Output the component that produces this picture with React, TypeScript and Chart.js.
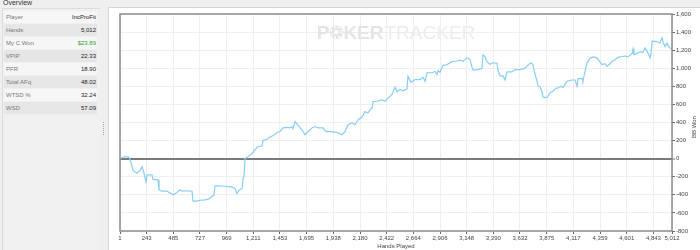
import React, { useEffect, useRef } from "react";
import { Chart, registerables } from "chart.js";

Chart.register(...registerables);

const HANDS = [
  1, 19, 46, 83, 101, 119, 155, 183, 201, 219, 237, 246, 291, 301, 346, 355, 382, 428, 455, 482,
  518, 546, 573, 609, 655, 664, 700, 727, 773, 809, 836, 854, 863, 891, 954, 1018, 1045, 1063, 1081, 1109,
  1118, 1127, 1136, 1163, 1199, 1226, 1254, 1290, 1299, 1335, 1363, 1390, 1426, 1453, 1481, 1517, 1544, 1562, 1571, 1590,
  1617, 1653, 1680, 1708, 1744, 1771, 1798, 1844, 1871, 1907, 1971, 2016, 2044, 2071, 2107, 2134, 2162, 2198, 2225, 2252,
  2271, 2289, 2298, 2334, 2379, 2407, 2434, 2470, 2497, 2516, 2543, 2570, 2606, 2615, 2643, 2679, 2724, 2752, 2770, 2788,
  2834, 2861, 2879, 2888, 2906, 2933, 2969, 3015, 3060, 3088, 3115, 3133, 3160, 3178, 3197, 3206, 3251, 3287, 3296, 3314,
  3333, 3360, 3387, 3423, 3432, 3451, 3478, 3496, 3514, 3560, 3587, 3632, 3678, 3705, 3732, 3750, 3768, 3786, 3796, 3814,
  3832, 3841, 3877, 3886, 3904, 3932, 3959, 3977, 3995, 4023, 4059, 4104, 4132, 4150, 4159, 4195, 4204, 4222, 4240, 4268,
  4295, 4331, 4358, 4376, 4404, 4422, 4449, 4467, 4494, 4521, 4558, 4585, 4612, 4649, 4658, 4667, 4694, 4722, 4749, 4767,
  4785, 4813, 4822, 4831, 4876, 4903, 4921, 4930, 4949, 4967, 4976, 4994, 5012,
];

const BB_WON = [
  0, 10, 25, 15, -40, -130, -160, -130, -90, -160, -260, -180, -180, -230, -235, -345, -360, -360, -380, -400,
  -375, -345, -360, -355, -360, -470, -470, -460, -455, -445, -415, -405, -300, -300, -305, -315, -330, -385, -350, -330,
  -215, -200, 0, 25, 55, 100, 135, 140, 205, 215, 240, 255, 290, 300, 340, 345, 340, 355, 330, 410,
  370, 320, 265, 300, 340, 355, 340, 340, 300, 300, 290, 265, 300, 375, 395, 375, 430, 460, 520, 505,
  540, 560, 630, 635, 650, 635, 670, 710, 790, 740, 765, 750, 770, 910, 845, 875, 875, 900, 855, 950,
  950, 965, 930, 975, 955, 1030, 1040, 1075, 1080, 1090, 1075, 1100, 1115, 1095, 1010, 980, 985, 1000, 1150, 1130,
  1070, 1045, 1060, 1055, 980, 915, 915, 870, 960, 960, 985, 985, 1000, 1035, 1060, 1040, 935, 860, 805, 795,
  740, 680, 675, 690, 730, 745, 780, 780, 800, 790, 855, 870, 870, 800, 885, 885, 860, 965, 1060, 1110,
  1125, 1115, 1070, 1040, 1050, 1020, 1050, 1075, 1095, 1120, 1130, 1135, 1125, 1160, 1215, 1150, 1165, 1180, 1175, 1225,
  1190, 1115, 1170, 1300, 1295, 1280, 1335, 1290, 1240, 1280, 1250, 1225, 1205,
];

const X_TICKS = [
  1, 243, 485, 727, 969, 1211, 1453, 1695, 1938, 2180, 2422, 2664, 2906, 3148, 3390, 3632, 3875, 4117, 4359, 4601, 4843, 5012,
];

const Y_MIN = -800;
const Y_MAX = 1600;
const Y_STEP = 200;

const STAT_LABELS = ["Player", "Hands", "My C Won", "VPIP", "PFR", "Total AFq", "WTSD %", "WSD"];
const STAT_VALUES = ["IncProFit", "5,012", "$23.89", "22.33", "18.90", "48.02", "32.24", "57.09"];

const X_TITLE = "Hands Played";
const Y_TITLE = "BB Won";

const FONT = "'Liberation Sans', Arial, sans-serif";

const fmt = (v: number) => Number(v).toLocaleString("en-US");

const decorPlugin = {
  id: "decor",
  beforeDatasetsDraw(chart: any) {
    const { ctx, chartArea } = chart;
    const cx = (chartArea.left + chartArea.right) / 2;
    const base = chartArea.top + 25;
    ctx.save();
    const size = 19;
    ctx.font = `bold ${size}px ${FONT}`;
    const wP = ctx.measureText("P").width;
    const wKER = ctx.measureText("KER").width;
    ctx.font = `${size}px ${FONT}`;
    const wTR = ctx.measureText("TRACKER").width;
    const chipW = 14;
    const total = wP + chipW + wKER + wTR + 1;
    let x = cx - total / 2;
    ctx.textBaseline = "alphabetic";
    ctx.fillStyle = "#e4e4e4";
    ctx.font = `bold ${size}px ${FONT}`;
    ctx.fillText("P", x, base);
    x += wP;
    const r = 6.8;
    const ccx = x + chipW / 2;
    const ccy = base - 6.8;
    ctx.beginPath();
    ctx.arc(ccx, ccy, r, 0, Math.PI * 2);
    ctx.fill();
    ctx.strokeStyle = "#ffffff";
    ctx.lineWidth = 1.6;
    ctx.setLineDash([2, 2.2]);
    ctx.beginPath();
    ctx.arc(ccx, ccy, r - 1.6, 0, Math.PI * 2);
    ctx.stroke();
    ctx.setLineDash([]);
    ctx.fillStyle = "#ffffff";
    ctx.beginPath();
    ctx.arc(ccx, ccy, 2.4, 0, Math.PI * 2);
    ctx.fill();
    x += chipW;
    ctx.fillStyle = "#e4e4e4";
    ctx.fillText("KER", x, base);
    x += wKER + 1;
    ctx.font = `${size}px ${FONT}`;
    ctx.fillStyle = "#ececec";
    ctx.fillText("TRACKER", x, base);
    ctx.restore();
  },
  afterDraw(chart: any) {
    const { ctx, chartArea, width, height } = chart;
    ctx.save();
    ctx.strokeStyle = "#8c8c8c";
    ctx.lineWidth = 1.5;
    ctx.strokeRect(chartArea.left, chartArea.top, chartArea.right - chartArea.left, chartArea.bottom - chartArea.top);
    ctx.fillStyle = "#444";
    ctx.font = `6px ${FONT}`;
    ctx.textAlign = "center";
    ctx.textBaseline = "middle";
    ctx.fillText(X_TITLE, (chartArea.left + chartArea.right) / 2, height - 3.5);
    ctx.translate(width - 6, 119);
    ctx.rotate(-Math.PI / 2);
    ctx.fillText(Y_TITLE, 0, 0);
    ctx.restore();
  },
};

function PokerChart() {
  const ref = useRef<HTMLCanvasElement | null>(null);
  useEffect(() => {
    if (!ref.current) return;
    const tickFont = { family: FONT, size: 6 };
    const chart = new Chart(ref.current, {
      type: "line",
      data: {
        datasets: [
          {
            data: HANDS.map((h, i) => ({ x: h, y: BB_WON[i] })),
            borderColor: "#86cdf8",
            borderWidth: 1.2,
            pointRadius: 0,
            tension: 0,
            fill: false,
          },
        ],
      },
      options: {
        animation: false,
        responsive: false,
        maintainAspectRatio: false,
        layout: { padding: { left: 11, top: 6, right: 0, bottom: 0 } },
        plugins: { legend: { display: false }, tooltip: { enabled: false } },
        scales: {
          x: {
            type: "linear",
            min: 1,
            max: 5012,
            afterBuildTicks: (s: any) => {
              s.ticks = X_TICKS.map((v) => ({ value: v }));
            },
            afterFit: (s: any) => {
              s.height = 19;
            },
            ticks: {
              font: tickFont,
              color: "#444",
              maxRotation: 0,
              minRotation: 0,
              autoSkip: false,
              padding: 1,
              callback: (v: any) => fmt(v),
            },
            grid: { color: "#eeeeee", lineWidth: 1, tickLength: 3, tickColor: "#666", tickWidth: 1 },
            border: { display: false },
          },
          y: {
            position: "right",
            min: Y_MIN,
            max: Y_MAX,
            afterFit: (s: any) => {
              s.width = 28;
            },
            ticks: {
              stepSize: Y_STEP,
              font: tickFont,
              color: "#444",
              padding: 1,
              callback: (v: any) => fmt(v),
            },
            grid: {
              color: (c: any) => (c.tick && c.tick.value === 0 ? "#7a7a7a" : "#eeeeee"),
              lineWidth: (c: any) => (c.tick && c.tick.value === 0 ? 2 : 1),
              tickLength: 3,
              tickColor: "#666",
              tickWidth: 1,
            },
            border: { display: false },
          },
        },
      },
      plugins: [decorPlugin],
    } as any);
    return () => chart.destroy();
  }, []);
  return <canvas ref={ref} width={591} height={242} style={{ display: "block", width: 591, height: 242 }} />;
}

export default function App() {
  const grip = [];
  for (let i = 0; i < 7; i++) {
    grip.push(
      <div key={i} style={{ position: "absolute", left: 103, top: 122 + i * 2, width: 1, height: 1, background: "#a8a8a8" }} />
    );
  }
  return (
    <div
      style={{
        position: "fixed",
        left: 0,
        top: 0,
        width: 700,
        height: 250,
        background: "#efefef",
        overflow: "hidden",
        fontFamily: FONT,
      }}
    >
      <div style={{ position: "absolute", left: 3, top: -1, fontSize: 7, color: "#333", lineHeight: "8px" }}>Overview</div>
      <div
        style={{
          position: "absolute",
          left: 2,
          top: 8,
          width: 97,
          height: 250,
          borderLeft: "1px solid #dcdcdc",
          borderTop: "1px solid #dcdcdc",
          background: "#f0f0f0",
        }}
      />
      {STAT_LABELS.map((lab, i) => (
        <div
          key={lab}
          style={{
            position: "absolute",
            left: 4,
            top: 11 + i * 13,
            width: 93,
            height: 12,
            background: i % 2 === 1 ? "#e6e6e6" : "#f6f6f6",
            fontSize: 6,
            lineHeight: "12px",
          }}
        >
          <span style={{ position: "absolute", left: 2, color: "#777" }}>{lab}</span>
          <span
            style={{
              position: "absolute",
              right: 1,
              color: i === 2 ? "#2fa52f" : "#222",
            }}
          >
            {STAT_VALUES[i]}
          </span>
        </div>
      ))}
      {grip}
      <div
        style={{
          position: "absolute",
          left: 108,
          top: 7,
          width: 592,
          height: 243,
          background: "#ffffff",
          borderLeft: "1px solid #d4d4d4",
          borderTop: "1px solid #d4d4d4",
        }}
      >
        <PokerChart />
      </div>
    </div>
  );
}
